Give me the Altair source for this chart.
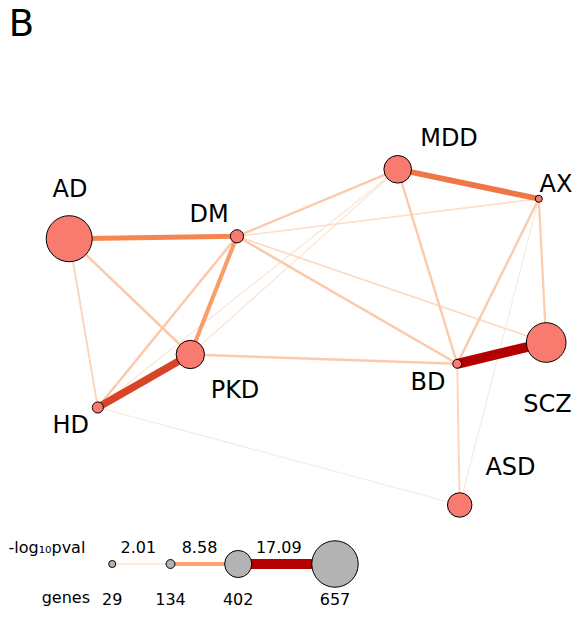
import altair as alt
import pandas as pd

# ---- network nodes (layout coordinates) ----
nodes = ["AD", "DM", "PKD", "HD", "MDD", "AX", "BD", "SCZ", "ASD"]
node_x = [69.2, 237.0, 190.3, 97.8, 397.7, 538.8, 457.2, 546.2, 459.7]
node_y = [238.7, 236.3, 354.5, 407.5, 169.3, 198.8, 363.8, 342.5, 505.0]
node_genes = [650, 173, 414, 152, 407, 29, 134, 552, 347]
label_x = [70.0, 209.0, 235.0, 70.8, 449.0, 556.0, 428.0, 547.5, 510.5]
label_y = [197.0, 222.0, 398.0, 433.0, 145.7, 191.7, 390.0, 412.3, 475.0]

# ---- edges ----
edge_source = ["HD", "AX", "PKD", "HD", "DM", "DM", "AD", "BD", "AX", "DM",
               "AD", "DM", "DM", "PKD", "MDD", "AX", "DM", "AD", "MDD", "PKD", "BD"]
edge_target = ["ASD", "ASD", "MDD", "MDD", "AX", "SCZ", "HD", "ASD", "SCZ", "HD",
               "PKD", "MDD", "BD", "BD", "BD", "BD", "PKD", "DM", "AX", "HD", "SCZ"]
edge_pval = [1.3, 1.3, 1.8, 1.8, 2.6, 3.0, 3.6, 3.6, 4.6, 5.0,
             5.0, 4.8, 5.0, 4.8, 4.8, 4.8, 9.0, 10.4, 11.2, 13.7, 17.09]

# ---- legend ----
legend_genes = [29, 134, 402, 657]
legend_x = [112.2, 170.5, 238.2, 335.0]
legend_y = 564.0
legend_pval = [2.01, 8.58, 17.09]
legend_pval_x = [138.3, 199.5, 278.8]
legend_pval_y = 553.0
legend_genes_y = 604.5

node_df = pd.DataFrame({"label": nodes, "x": node_x, "y": node_y, "genes": node_genes,
                        "lx": label_x, "ly": label_y})
pos = node_df.set_index("label")
edge_df = pd.DataFrame({"src": edge_source, "dst": edge_target, "pval": edge_pval})
edge_df["x"] = edge_df["src"].map(pos["x"])
edge_df["y"] = edge_df["src"].map(pos["y"])
edge_df["x2"] = edge_df["dst"].map(pos["x"])
edge_df["y2"] = edge_df["dst"].map(pos["y"])

leg_nodes = pd.DataFrame({"x": legend_x, "y": [legend_y] * 4, "genes": legend_genes,
                          "label": [str(g) for g in legend_genes],
                          "ly": [legend_genes_y] * 4})
leg_edges = pd.DataFrame({"x": legend_x[:-1], "x2": legend_x[1:], "y": [legend_y] * 3,
                          "y2": [legend_y] * 3, "pval": legend_pval,
                          "lx": legend_pval_x, "ly": [legend_pval_y] * 3,
                          "label": [f"{v:.2f}" for v in legend_pval]})
leg_titles = pd.DataFrame({"x": [8.5, 90.0], "y": [legend_pval_y, 603.0],
                           "label": ["-log\u2081\u2080pval", "genes"]})
title_df = pd.DataFrame({"x": [8.7], "y": [36.0], "label": ["B"]})

W, H = 565, 601
xs = alt.Scale(domain=[8, 8 + W], nice=False, zero=False)
ys = alt.Scale(domain=[8, 8 + H], nice=False, zero=False, reverse=True)
X = lambda f: alt.X(f, type="quantitative", scale=xs, axis=None)
Y = lambda f: alt.Y(f, type="quantitative", scale=ys, axis=None)

cdom = [0.0, 1.2, 2.0, 5.0, 8.6, 10.5, 13.7, 17.1, 19.5]
crange = ["#fff7ef", "#f6eadc", "#fde3cf", "#fcc8a8", "#fca272",
          "#f5844f", "#d84427", "#b30000", "#7f0000"]
cscale = alt.Scale(domain=cdom, range=crange, interpolate="rgb")
wscale = alt.Scale(domain=[0, 2.01, 8.58, 17.09], range=[0.5, 1.3, 3.8, 10.0])
sscale = alt.Scale(domain=[29, 134, 402, 657], range=[50, 79, 735, 2157])

font = "DejaVu Sans"


def rules(df):
    return alt.Chart(df).mark_rule().encode(
        x=X("x"), y=Y("y"), x2="x2", y2="y2",
        color=alt.Color("pval:Q", scale=cscale, legend=None),
        strokeWidth=alt.StrokeWidth("pval:Q", scale=wscale, legend=None),
    )


def circles(df, fill):
    return alt.Chart(df).mark_circle(
        fill=fill, stroke="black", strokeWidth=1, opacity=1
    ).encode(x=X("x"), y=Y("y"), size=alt.Size("genes:Q", scale=sscale, legend=None))


def texts(df, xf, yf, size, align="center"):
    return alt.Chart(df).mark_text(
        font=font, fontSize=size, align=align, baseline="alphabetic", color="black"
    ).encode(x=X(xf), y=Y(yf), text="label:N")


chart = alt.layer(
    rules(edge_df),
    circles(node_df, "#f97a6e"),
    texts(node_df, "lx", "ly", 24),
    rules(leg_edges),
    circles(leg_nodes, "#b3b3b3"),
    texts(leg_nodes, "x", "ly", 16),
    texts(leg_edges, "lx", "ly", 16),
    texts(leg_titles.iloc[[0]], "x", "y", 16, "left"),
    texts(leg_titles.iloc[[1]], "x", "y", 16, "right"),
    texts(title_df, "x", "y", 37, "left"),
).properties(
    width=W, height=H, padding=0, autosize=alt.AutoSizeParams(type="none")
).configure_view(stroke=None)

chart.save("out.html", embed_options={"renderer": "svg", "actions": False})
